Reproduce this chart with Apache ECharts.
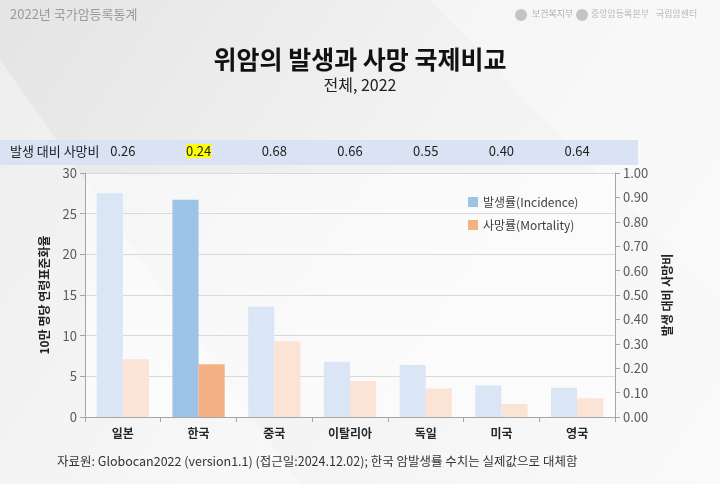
<!DOCTYPE html>
<html><head><meta charset="utf-8">
<script src="https://cdn.jsdelivr.net/npm/echarts@6/dist/echarts.min.js"></script>
<style>html,body{margin:0;padding:0;}#c{width:720px;height:484px;}</style>
</head><body><div id="c"></div>
<script>
const categories = ['일본','한국','중국','이탈리아','독일','미국','영국'];
const incidence = [27.5, 26.7, 13.6, 6.8, 6.4, 3.9, 3.6];
const mortality = [7.1, 6.5, 9.3, 4.4, 3.5, 1.6, 2.3];
const ratios = ['0.26','0.24','0.68','0.66','0.55','0.40','0.64'];
const highlightIndex = 1;

const FONT = '"Noto Sans CJK KR","Noto Sans",sans-serif';
const chart = echarts.init(document.getElementById('c'));

const incColor = '#9DC3E6', incLight = '#DAE6F5';
const morColor = '#F4B183', morLight = '#FBE3D5';

chart.setOption({
  backgroundColor: {
    type: 'linear', x: 0, y: 0, x2: 1, y2: 1,
    colorStops: [{offset: 0, color: '#e4e4e4'}, {offset: 0.5, color: '#f3f3f3'}, {offset: 1, color: '#fafafa'}]
  },
  textStyle: {fontFamily: FONT},
  graphic: [
    {type: 'polygon', shape: {points: [[0,60],[300,484],[0,484]]}, style: {fill: 'rgba(255,255,255,0.35)'}, silent: true, z: -10},
    {type: 'polygon', shape: {points: [[430,0],[720,0],[720,300]]}, style: {fill: 'rgba(255,255,255,0.3)'}, silent: true, z: -10},
    {type: 'rect', shape: {x: 85, y: 173, width: 530, height: 244}, style: {fill: 'rgba(255,255,255,0.55)'}, silent: true, z: -5},
    {type: 'text', left: 10, top: 8, style: {text: '2022년 국가암등록통계', fontSize: 13, fill: '#9a9a9a', fontFamily: FONT}},
    {type: 'circle', shape: {cx: 521, cy: 15, r: 6}, style: {fill: '#c4c4c4'}},
    {type: 'text', left: 532, top: 9, style: {text: '보건복지부', fontSize: 9, fill: '#b0b0b0', fontFamily: FONT}},
    {type: 'circle', shape: {cx: 582, cy: 15, r: 6}, style: {fill: '#c4c4c4'}},
    {type: 'text', left: 591, top: 9, style: {text: '중앙암등록본부', fontSize: 9, fill: '#b8b8b8', fontFamily: FONT}},
    {type: 'text', left: 656, top: 9, style: {text: '국립암센터', fontSize: 9, fill: '#b8b8b8', fontFamily: FONT}},
    {type: 'text', left: 'center', top: 47, style: {text: '위암의 발생과 사망 국제비교', fontSize: 25, fontWeight: 'bold', fill: '#111', fontFamily: FONT}},
    {type: 'text', left: 'center', top: 77, style: {text: '전체, 2022', fontSize: 16, fill: '#222', fontFamily: FONT}},
    {type: 'rect', shape: {x: 0, y: 140, width: 638, height: 25}, style: {fill: '#DAE3F3'}, z: -1},
    {type: 'text', left: 10, top: 145, style: {text: '발생 대비 사망비', fontSize: 13, fill: '#222', fontFamily: FONT}},
    {type: 'text', left: 57, top: 455, style: {text: '자료원: Globocan2022 (version1.1) (접근일:2024.12.02); 한국 암발생률 수치는 실제값으로 대체함', fontSize: 12.5, fill: '#333', fontFamily: FONT}}
  ],
  legend: {
    orient: 'vertical', left: 463, top: 191, itemGap: 11,
    itemWidth: 10, itemHeight: 10, icon: 'rect',
    textStyle: {fontSize: 12, color: '#404040', fontFamily: FONT},
    data: ['발생률(Incidence)', '사망률(Mortality)']
  },
  grid: {left: 85, right: 105, top: 173, bottom: 67},
  xAxis: [
    {
      type: 'category', data: categories, position: 'bottom',
      axisLine: {lineStyle: {color: '#A6A6A6'}},
      axisTick: {show: true, alignWithLabel: false, lineStyle: {color: '#A6A6A6'}},
      axisLabel: {fontSize: 12, color: '#262626', fontWeight: 'bold', margin: 10, fontFamily: FONT}
    },
    {
      type: 'category', data: categories, position: 'top', offset: 7,
      axisLine: {show: false}, axisTick: {show: false},
      axisLabel: {
        fontSize: 13, color: '#222', fontFamily: FONT,
        formatter: (v, i) => i === highlightIndex ? '{hl|' + ratios[i] + '}' : ratios[i],
        rich: {hl: {backgroundColor: '#FFFF00', fontSize: 13, color: '#222', padding: [1, 0, 0, 0], fontFamily: FONT}}
      }
    }
  ],
  yAxis: [
    {
      type: 'value', min: 0, max: 30, interval: 5,
      name: '10만 명당 연령표준화율', nameLocation: 'middle', nameGap: 35, nameRotate: 90,
      nameTextStyle: {fontSize: 12, fontWeight: 'bold', color: '#222', fontFamily: FONT},
      axisLine: {show: true, lineStyle: {color: '#A6A6A6'}},
      axisTick: {show: true, length: 5, lineStyle: {color: '#A6A6A6'}},
      axisLabel: {fontSize: 13, color: '#595959', margin: 8},
      splitLine: {lineStyle: {color: '#D9D9D9'}}
    },
    {
      type: 'value', min: 0, max: 1, interval: 0.1, position: 'right',
      name: '발생 대비 사망비', nameLocation: 'middle', nameGap: 46, nameRotate: 90,
      nameTextStyle: {fontSize: 12, fontWeight: 'bold', color: '#222', fontFamily: FONT},
      axisLine: {show: true, lineStyle: {color: '#A6A6A6'}},
      axisTick: {show: true, length: 5, lineStyle: {color: '#A6A6A6'}},
      axisLabel: {fontSize: 13, color: '#595959', margin: 8, formatter: v => v.toFixed(2)},
      splitLine: {show: false}
    }
  ],
  series: [
    {
      name: '발생률(Incidence)', type: 'bar', xAxisIndex: 0, yAxisIndex: 0,
      itemStyle: {color: incColor},
      barGap: '0%', barCategoryGap: '31%',
      data: incidence.map((v, i) => ({value: v, itemStyle: {color: i === highlightIndex ? incColor : incLight}}))
    },
    {
      name: '사망률(Mortality)', type: 'bar', xAxisIndex: 0, yAxisIndex: 0,
      itemStyle: {color: morColor},
      barGap: '0%', barCategoryGap: '31%',
      data: mortality.map((v, i) => ({value: v, itemStyle: {color: i === highlightIndex ? morColor : morLight}}))
    }
  ]
});
</script></body></html>
